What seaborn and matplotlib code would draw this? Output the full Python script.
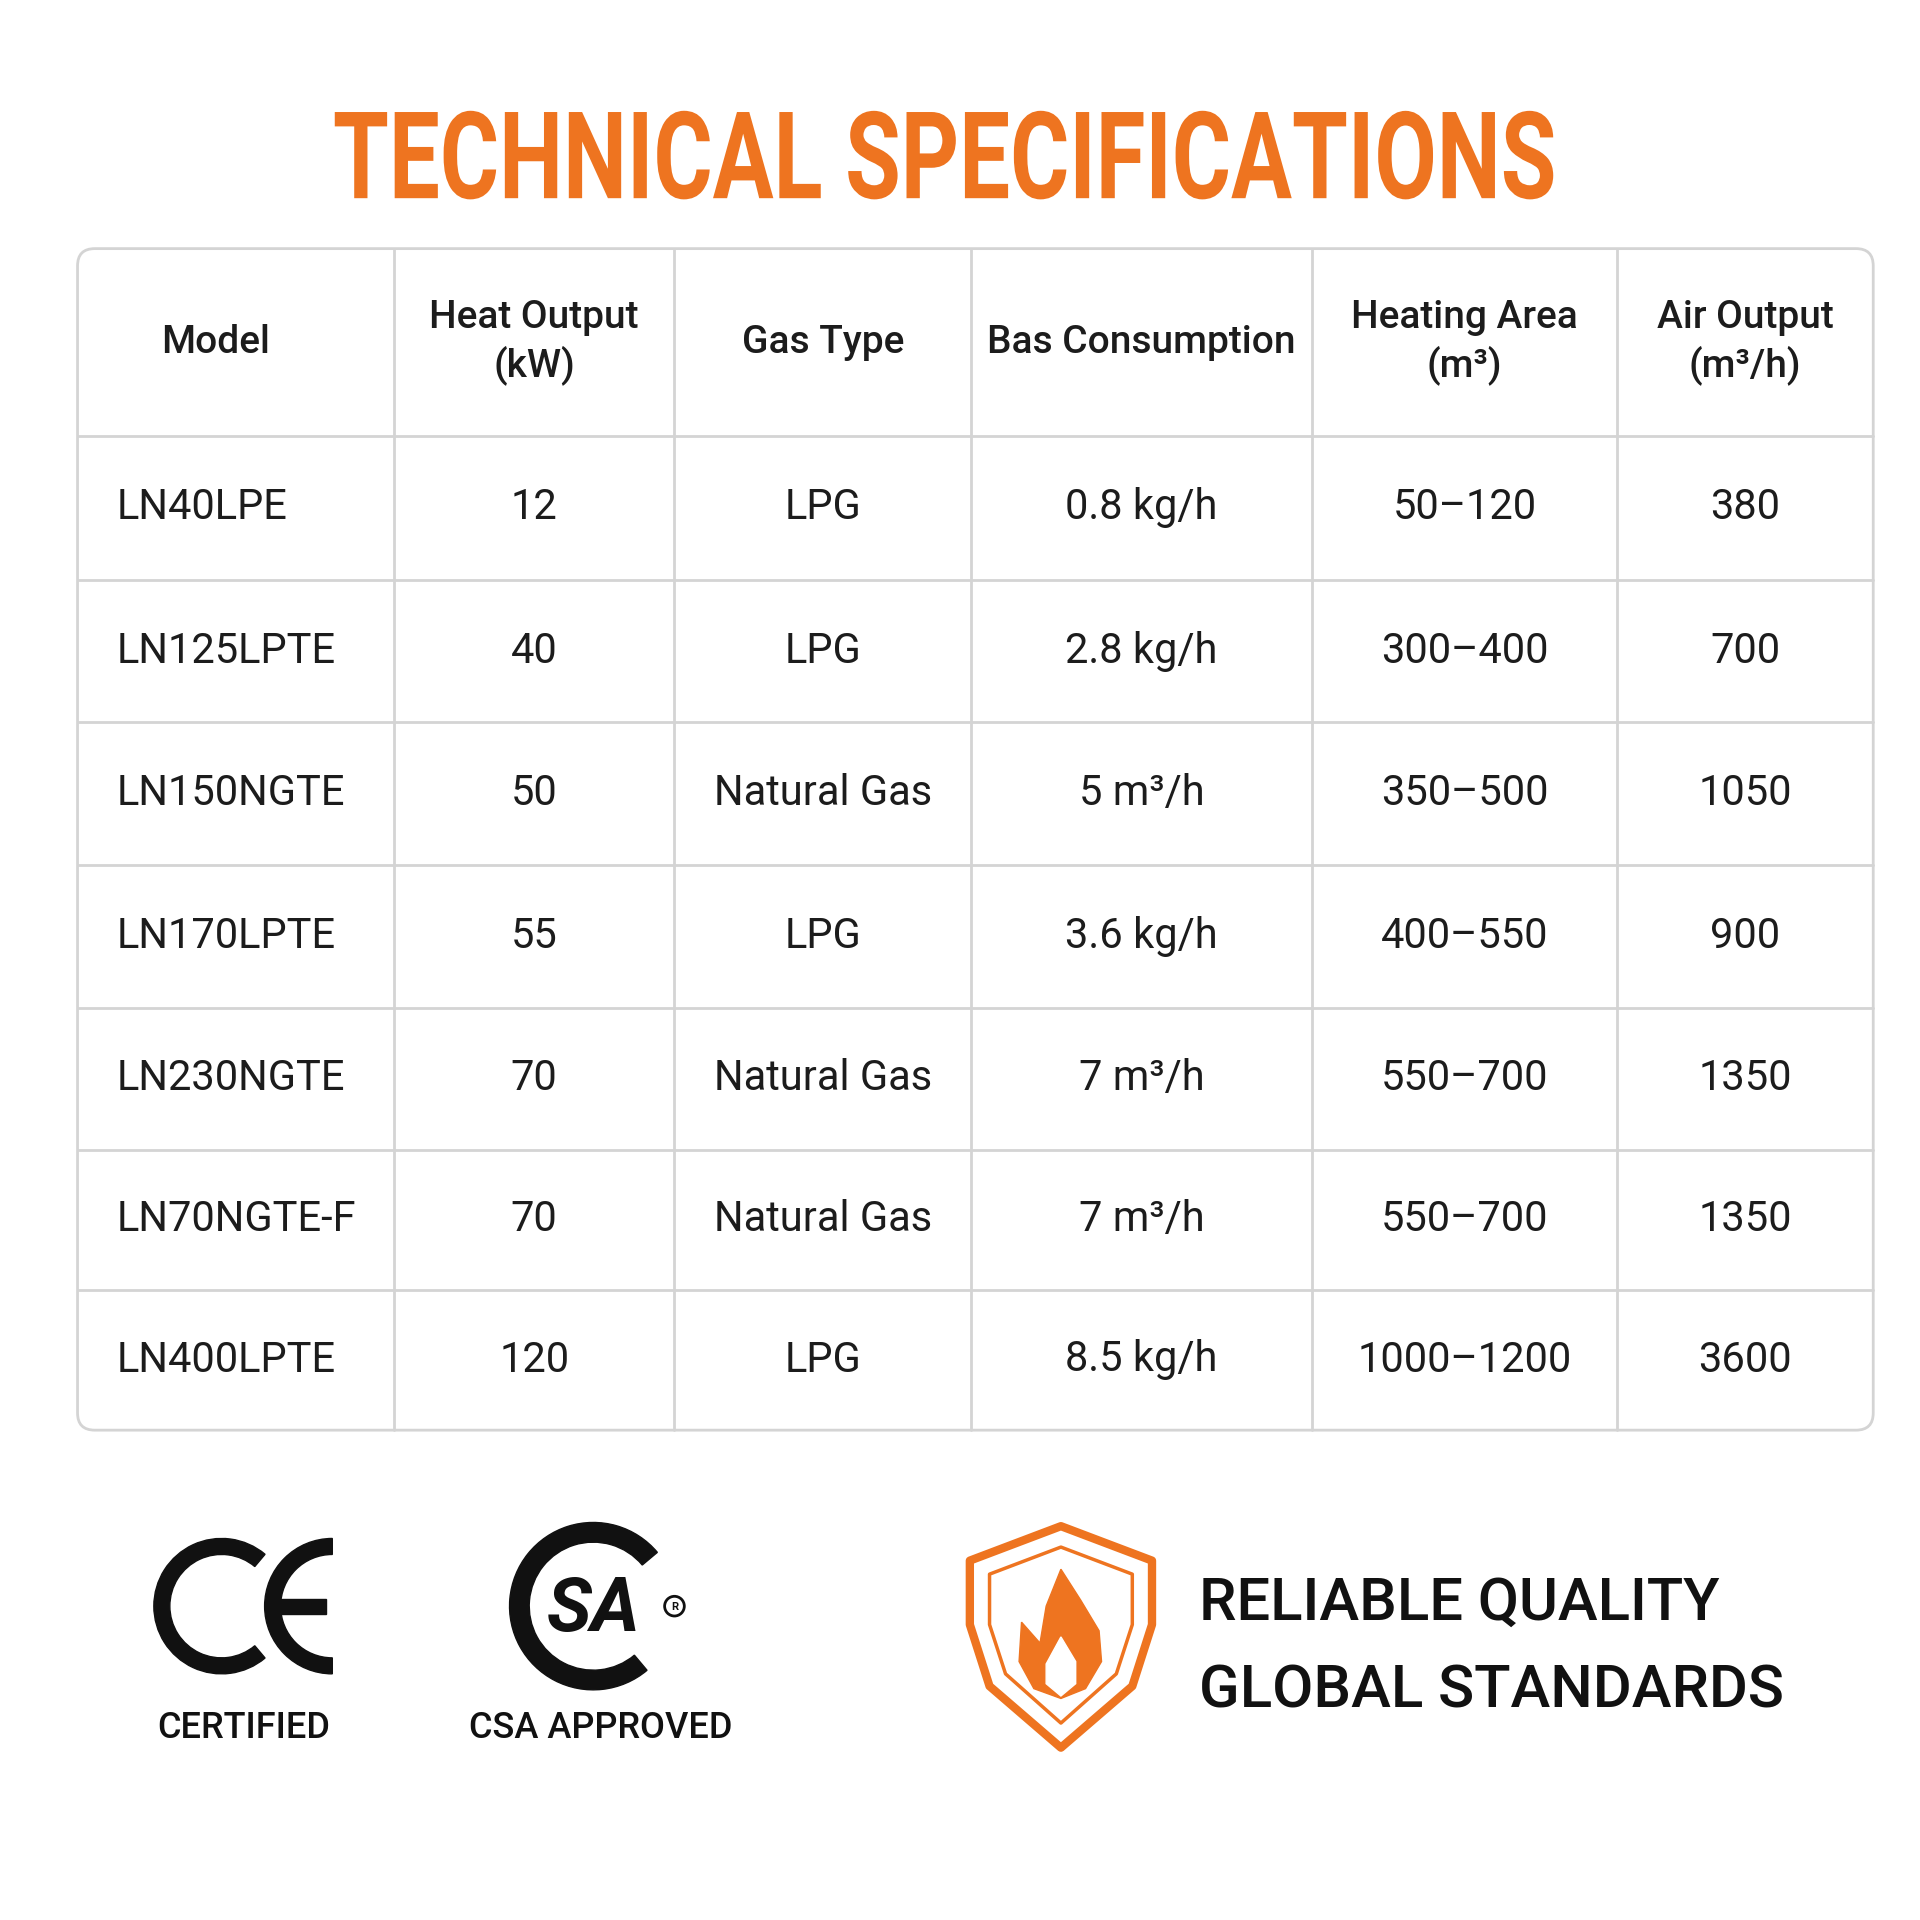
import numpy as np
import matplotlib
matplotlib.use("Agg")
import matplotlib.pyplot as plt
import matplotlib.patches as mp
from matplotlib.patches import Wedge, Circle, Polygon, PathPatch, Rectangle
from matplotlib.textpath import TextPath
from matplotlib.font_manager import FontProperties
from matplotlib.transforms import Affine2D
import seaborn as sns

title = "TECHNICAL SPECIFICATIONS"
headers = ["Model", "Heat Output\n(kW)", "Gas Type", "Bas Consumption", "Heating Area\n(m³)", "Air Output\n(m³/h)"]
models = ["LN40LPE", "LN125LPTE", "LN150NGTE", "LN170LPTE", "LN230NGTE", "LN70NGTE-F", "LN400LPTE"]
heat_kw = ["12", "40", "50", "55", "70", "70", "120"]
gas_type = ["LPG", "LPG", "Natural Gas", "LPG", "Natural Gas", "Natural Gas", "LPG"]
consumption = ["0.8 kg/h", "2.8 kg/h", "5 m³/h", "3.6 kg/h", "7 m³/h", "7 m³/h", "8.5 kg/h"]
area = ["50–120", "300–400", "350–500", "400–550", "550–700", "550–700", "1000–1200"]
air = ["380", "700", "1050", "900", "1350", "1350", "3600"]

sns.set_style("white")
plt.rcParams['font.family'] = ['Roboto', 'DejaVu Sans']
ORANGE = "#ee7420"
GRID = "#d4d4d4"
INK = "#1c1c1c"

fig = plt.figure(figsize=(19.2, 19.2), dpi=100)
ax = fig.add_axes([0, 0, 1, 1])
ax.set_xlim(0, 1560); ax.set_ylim(1560, 0); ax.axis("off")

# condensed title via TextPath
tp = TextPath((0, 0), title, size=100, prop=FontProperties(family="Roboto", weight="bold"))
bb = tp.get_extents()
sx = (1262 - 272) / bb.width
sy = (162 - 90) / bb.height
tr = Affine2D().translate(-bb.x0, -bb.y0).scale(sx, -sy).translate(272, 162)
ax.add_patch(PathPatch(tr.transform_path(tp), fc=ORANGE, ec="none"))

xs = [63, 320, 548, 789, 1066, 1314, 1522]
ys = [202, 354, 471, 587, 703, 819, 934, 1048, 1162]
ax.add_patch(mp.FancyBboxPatch((xs[0], ys[0]), xs[-1]-xs[0], ys[-1]-ys[0],
             boxstyle="round,pad=0,rounding_size=14", fc="white", ec=GRID, lw=2))
for x in xs[1:-1]:
    ax.plot([x, x], [ys[0], ys[-1]], color=GRID, lw=2)
for y in ys[1:-1]:
    ax.plot([xs[0], xs[-1]], [y, y], color=GRID, lw=2)

for j, h in enumerate(headers):
    cx = 175 if j == 0 else (xs[j]+xs[j+1])/2
    ax.text(cx, (ys[0]+ys[1])/2, h, ha="center", va="center", fontsize=28,
            fontweight="medium", color=INK, linespacing=1.3)

cols = [models, heat_kw, gas_type, consumption, area, air]
for i in range(len(models)):
    cy = (ys[i+1]+ys[i+2])/2
    for j, col in enumerate(cols):
        if j == 0:
            ax.text(95, cy, col[i], ha="left", va="center", fontsize=30, color=INK)
        else:
            ax.text((xs[j]+xs[j+1])/2, cy, col[i], ha="center", va="center", fontsize=30, color=INK)

# CE logo
ax.add_patch(Wedge((180, 1305), 55, 50, 310, width=13, color="#111"))
ax.add_patch(Wedge((270, 1305), 55, 90, 270, width=13, color="#111"))
ax.add_patch(Rectangle((225, 1299), 40, 12, color="#111"))
ax.text(198, 1404, "CERTIFIED", ha="center", va="center", fontsize=26, fontweight="medium", color="#111")
# CSA logo
ax.add_patch(Wedge((482, 1305), 68, 50, 320, width=16, color="#111"))
ax.text(482, 1308, "SA", ha="center", va="center", fontsize=54, fontweight="bold", color="#111", fontstyle="italic")
ax.add_patch(Circle((548, 1305), 8, fc="white", ec="#111", lw=2))
ax.text(548, 1305.5, "R", ha="center", va="center", fontsize=8, fontweight="bold", color="#111")
ax.text(488, 1404, "CSA APPROVED", ha="center", va="center", fontsize=26, fontweight="medium", color="#111")
# shield
shield = [(862, 1240), (936, 1268), (936, 1320), (920, 1370), (862, 1420), (804, 1370), (788, 1320), (788, 1268)]
ax.add_patch(Polygon(shield, closed=True, fc="white", ec=ORANGE, lw=6, joinstyle="round"))
inner = [(862, 1257), (920, 1279), (920, 1320), (907, 1360), (862, 1400), (817, 1360), (804, 1320), (804, 1279)]
ax.add_patch(Polygon(inner, closed=True, fc="white", ec=ORANGE, lw=2.5, joinstyle="round"))
flame = [(862, 1275), (878, 1300), (893, 1325), (895, 1350), (882, 1372), (862, 1380), (840, 1372),
         (828, 1350), (830, 1318), (845, 1335), (850, 1305)]
ax.add_patch(Polygon(flame, closed=True, fc=ORANGE, ec=ORANGE, lw=1))
inner_f = [(862, 1330), (874, 1350), (874, 1368), (862, 1378), (850, 1368), (850, 1352)]
ax.add_patch(Polygon(inner_f, closed=True, fc="white", ec="white"))
ax.text(974, 1303, "RELIABLE QUALITY", ha="left", va="center", fontsize=43, fontweight="medium", color="#111")
ax.text(974, 1374, "GLOBAL STANDARDS", ha="left", va="center", fontsize=43, fontweight="medium", color="#111")

fig.savefig("out.png", dpi=100, facecolor="white")
